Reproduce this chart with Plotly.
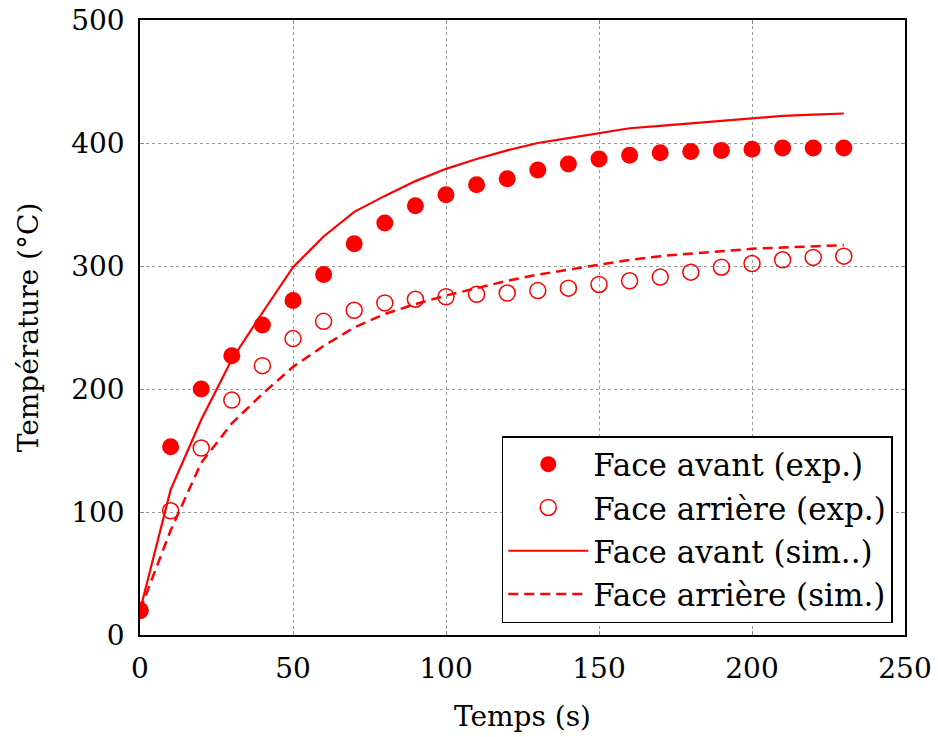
import plotly.graph_objects as go

# Data
t_exp = [0, 10, 20, 30, 40, 50, 60, 70, 80, 90, 100, 110, 120, 130, 140, 150,
         160, 170, 180, 190, 200, 210, 220, 230]
avant_exp = [20, 153, 200, 227, 252, 272, 293, 318, 335, 349, 358, 366, 371, 378,
             383, 387, 390, 392, 393, 394, 395, 396, 396, 396]
arriere_exp = [20, 101, 152, 191, 219, 241, 255, 264, 270, 273, 275, 277, 278, 280,
               282, 285, 288, 291, 295, 299, 302, 305, 307, 308]
t_sim = t_exp
avant_sim = [20, 118, 175, 224, 262, 299, 324, 344, 357, 369, 379, 387, 394, 400,
             404, 408, 412, 414, 416, 418, 420, 422, 423, 424]
arriere_sim = [20, 85, 140, 172, 196, 218, 235, 250, 261, 269, 276, 282, 288, 293,
               297, 301, 305, 308, 310, 312, 314, 315, 316, 317]

names = ["Face avant (exp.)", "Face arrière (exp.)", "Face avant (sim..)", "Face arrière (sim.)"]
x_ticks = [0, 50, 100, 150, 200, 250]
y_ticks = [0, 100, 200, 300, 400, 500]

RED = "#ff0000"
FONT = "DejaVu Serif"

fig = go.Figure()
fig.add_trace(go.Scatter(x=t_exp, y=avant_exp, mode="markers", name=names[0],
                         marker=dict(symbol="circle", size=17, color=RED)))
fig.add_trace(go.Scatter(x=t_exp, y=arriere_exp, mode="markers", name=names[1],
                         marker=dict(symbol="circle-open", size=16, color=RED,
                                     line=dict(width=1.5, color=RED))))
fig.add_trace(go.Scatter(x=t_sim, y=avant_sim, mode="lines", name=names[2],
                         line=dict(color=RED, width=2.2)))
fig.add_trace(go.Scatter(x=t_sim, y=arriere_sim, mode="lines", name=names[3],
                         line=dict(color=RED, width=2.5, dash="10px,6px")))

axis_common = dict(
    showline=True, linecolor="black", linewidth=1.5, mirror="allticks",
    ticks="inside", ticklen=4, tickcolor="#888888", tickwidth=1,
    showgrid=True, gridcolor="#999999", gridwidth=1, griddash="3px,3px",
    zeroline=False, tickfont=dict(family=FONT, size=28, color="black"),
    ticklabelstandoff=8, automargin=False,
)

fig.update_layout(
    width=938, height=737,
    margin=dict(l=140, r=33, t=20, b=102),
    plot_bgcolor="white", paper_bgcolor="white",
    font=dict(family=FONT, size=28, color="black"),
    showlegend=True,
    legend=dict(x=0.984, y=0.0195, xanchor="right", yanchor="bottom",
                bgcolor="white", bordercolor="black", borderwidth=1.5,
                font=dict(family=FONT, size=31, color="black"),
                itemwidth=80, tracegroupgap=0),
    xaxis=dict(range=[0, 250], tickvals=x_ticks,
               title=dict(text="Temps (s)", font=dict(family=FONT, size=28), standoff=22),
               **axis_common),
    yaxis=dict(range=[0, 500], tickvals=y_ticks,
               title=dict(text="Température (°C)", font=dict(family=FONT, size=28), standoff=24),
               **axis_common),
)

fig.write_html("out.html")
